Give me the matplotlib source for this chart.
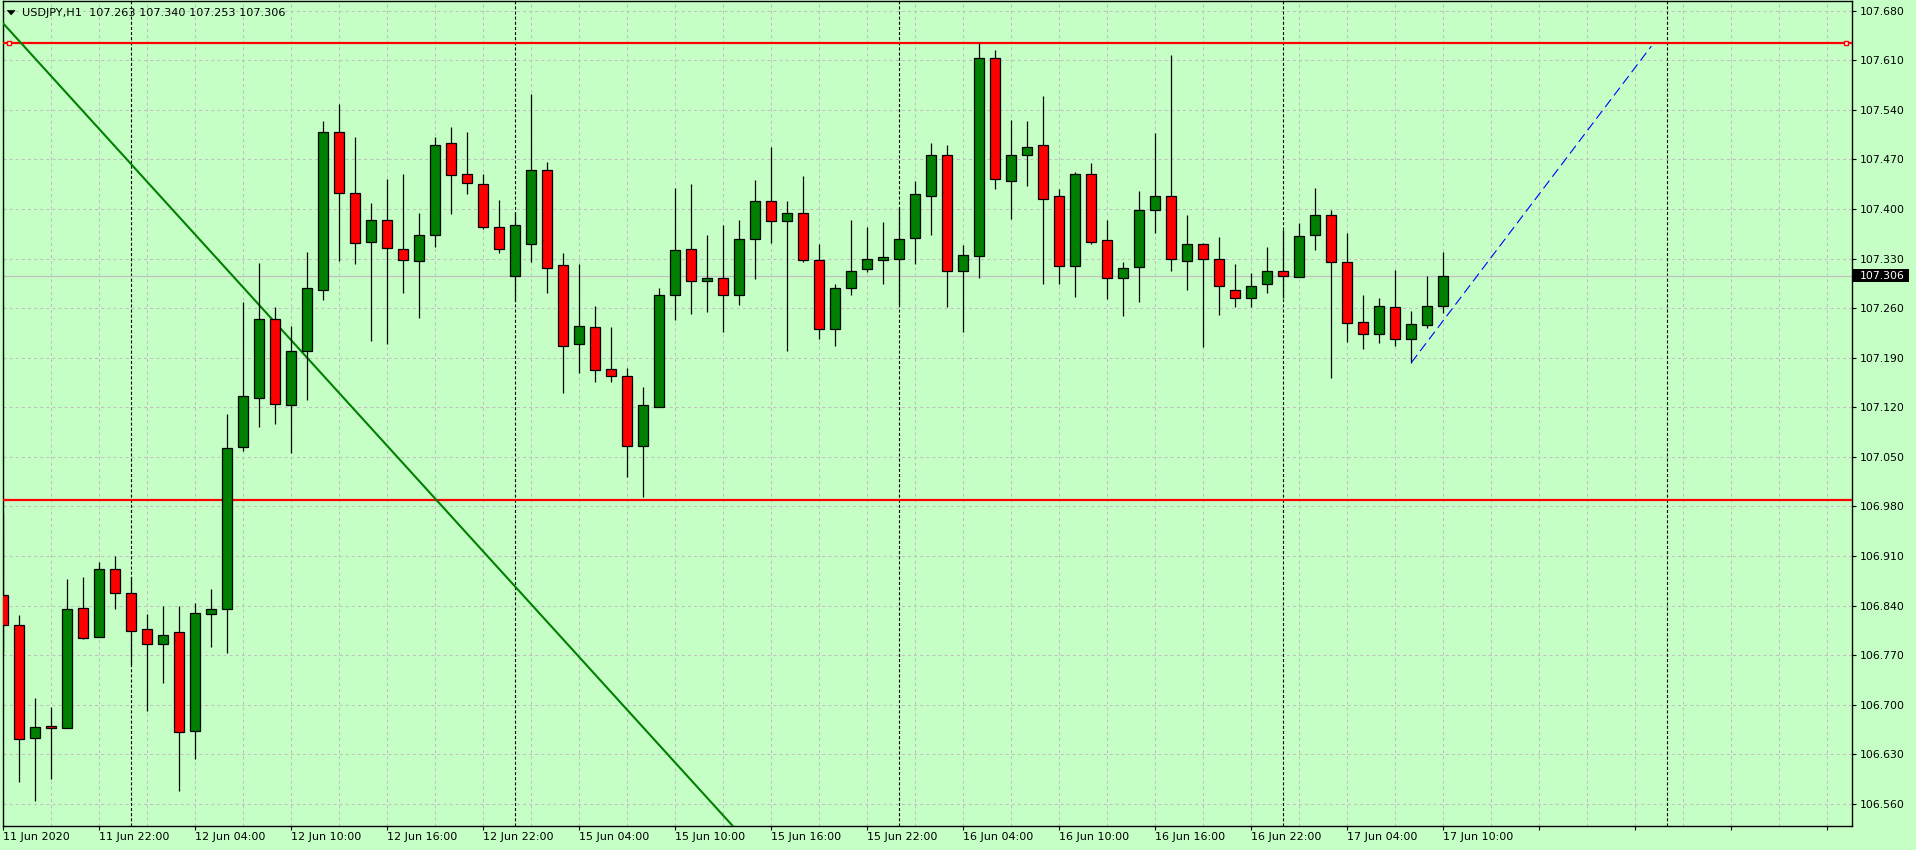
import matplotlib
matplotlib.use("Agg")
import matplotlib.pyplot as plt
import matplotlib.transforms as mtransforms
from matplotlib.patches import Rectangle, Polygon
import numpy as np

plt.rcParams['font.family'] = ['DejaVu Sans']
plt.rcParams['lines.scale_dashes'] = False

# ---------------- data ----------------
symbol_title = "USDJPY,H1"

opens = [106.855, 106.813, 106.653, 106.670, 106.667, 106.837, 106.796, 106.891, 106.858, 106.807,
         106.786, 106.802, 106.663, 106.828, 106.835, 107.064, 107.133, 107.244, 107.123, 107.200,
         107.286, 107.509, 107.423, 107.353, 107.385, 107.344, 107.327, 107.363, 107.493, 107.450,
         107.435, 107.375, 107.306, 107.351, 107.455, 107.321, 107.210, 107.234, 107.174, 107.164,
         107.065, 107.121, 107.278, 107.343, 107.298, 107.302, 107.278, 107.357, 107.412, 107.383,
         107.394, 107.328, 107.230, 107.288, 107.315, 107.328, 107.329, 107.359, 107.419, 107.477,
         107.313, 107.333, 107.613, 107.439, 107.477, 107.490, 107.418, 107.320, 107.449, 107.356,
         107.302, 107.318, 107.399, 107.419, 107.327, 107.351, 107.330, 107.286, 107.274, 107.294,
         107.313, 107.304, 107.363, 107.392, 107.325, 107.241, 107.224, 107.262, 107.217, 107.236,
         107.263]
highs = [106.971, 106.826, 106.709, 106.696, 106.878, 106.880, 106.902, 106.910, 106.880, 106.828,
         106.839, 106.839, 106.843, 106.863, 107.111, 107.268, 107.324, 107.261, 107.235, 107.340,
         107.525, 107.549, 107.502, 107.409, 107.442, 107.450, 107.394, 107.502, 107.516, 107.509,
         107.450, 107.413, 107.396, 107.562, 107.467, 107.338, 107.322, 107.263, 107.234, 107.175,
         107.149, 107.288, 107.429, 107.435, 107.363, 107.378, 107.385, 107.441, 107.488, 107.412,
         107.447, 107.350, 107.294, 107.384, 107.374, 107.381, 107.402, 107.439, 107.493, 107.490,
         107.349, 107.634, 107.624, 107.526, 107.524, 107.560, 107.428, 107.452, 107.465, 107.385,
         107.325, 107.425, 107.507, 107.617, 107.392, 107.352, 107.361, 107.323, 107.310, 107.346,
         107.370, 107.380, 107.430, 107.399, 107.366, 107.279, 107.274, 107.314, 107.256, 107.306,
         107.340]
lows = [106.774, 106.591, 106.564, 106.595, 106.667, 106.793, 106.796, 106.835, 106.756, 106.691,
        106.730, 106.578, 106.623, 106.781, 106.773, 107.058, 107.092, 107.097, 107.056, 107.130,
        107.271, 107.326, 107.323, 107.213, 107.209, 107.281, 107.246, 107.347, 107.393, 107.421,
        107.372, 107.338, 107.270, 107.325, 107.281, 107.140, 107.169, 107.155, 107.155, 107.022,
        106.993, 107.120, 107.243, 107.252, 107.255, 107.227, 107.265, 107.301, 107.352, 107.199,
        107.325, 107.216, 107.206, 107.278, 107.311, 107.294, 107.265, 107.322, 107.363, 107.262,
        107.226, 107.302, 107.428, 107.386, 107.433, 107.294, 107.294, 107.276, 107.350, 107.273,
        107.249, 107.268, 107.366, 107.312, 107.285, 107.205, 107.250, 107.261, 107.262, 107.282,
        107.275, 107.304, 107.342, 107.161, 107.212, 107.203, 107.211, 107.207, 107.183, 107.232,
        107.253]
closes = [106.813, 106.652, 106.669, 106.667, 106.835, 106.794, 106.891, 106.857, 106.804, 106.785,
          106.799, 106.662, 106.830, 106.835, 107.063, 107.136, 107.244, 107.125, 107.200, 107.289,
          107.509, 107.423, 107.352, 107.385, 107.345, 107.328, 107.363, 107.491, 107.448, 107.437,
          107.375, 107.344, 107.378, 107.455, 107.317, 107.207, 107.235, 107.173, 107.164, 107.065,
          107.123, 107.278, 107.342, 107.298, 107.303, 107.278, 107.357, 107.412, 107.383, 107.394,
          107.328, 107.230, 107.288, 107.312, 107.329, 107.332, 107.357, 107.421, 107.477, 107.312,
          107.335, 107.614, 107.442, 107.477, 107.487, 107.414, 107.320, 107.450, 107.354, 107.302,
          107.316, 107.398, 107.419, 107.330, 107.351, 107.330, 107.291, 107.275, 107.291, 107.313,
          107.306, 107.362, 107.392, 107.325, 107.239, 107.224, 107.263, 107.217, 107.238, 107.263,
          107.306]

xtick_labels = ["11 Jun 2020", "11 Jun 22:00", "12 Jun 04:00", "12 Jun 10:00", "12 Jun 16:00",
                "12 Jun 22:00", "15 Jun 04:00", "15 Jun 10:00", "15 Jun 16:00", "15 Jun 22:00",
                "16 Jun 04:00", "16 Jun 10:00", "16 Jun 16:00", "16 Jun 22:00", "17 Jun 04:00",
                "17 Jun 10:00"]
ytick_values = [106.560, 106.630, 106.700, 106.770, 106.840, 106.910, 106.980, 107.050,
                107.120, 107.190, 107.260, 107.330, 107.400, 107.470, 107.540, 107.610, 107.680]

level_prices = [107.635, 106.989]          # red horizontal lines
trend_x = [-0.04, 50.0]                     # green trend line (bar index)
trend_y = [107.663, 106.419]
target_x = [88, 103]                        # blue dashed line
target_y = [107.183, 107.630]
separator_bars = [8, 32, 56, 80, 104]       # day separators (bar index)
current_price = 107.306

# ---------------- layout ----------------
W, H = 1916, 850
BG = '#C6FFC6'
GRID = '#C0C0C0'
fig = plt.figure(figsize=(W / 100, H / 100), dpi=100)
fig.patch.set_facecolor(BG)

left_px, right_px, top_px, bottom_px = 2.7, 1852.3, 1, 826
ax = fig.add_axes([left_px / W, 1 - bottom_px / H, (right_px - left_px) / W, (bottom_px - top_px) / H])
ax.set_facecolor(BG)
ax.set_xlim(-0.0375, 115.56)
ax.set_ylim(106.5286, 107.6938)

n = len(opens)
idx = np.arange(n)

# grid
for g in range(0, 116, 3):
    ax.axvline(g, color=GRID, lw=0.75, ls=(0, (2.2, 2.2)), zorder=1)
for yv in ytick_values:
    ax.axhline(yv, color=GRID, lw=0.75, ls=(0, (2.2, 2.2)), zorder=1)

# day separators
for s in separator_bars:
    ax.axvline(s, color='black', lw=0.8, ls=(0, (2.2, 1.5)), zorder=2)

# current price line
ax.axhline(current_price, color='#C0C0C0', lw=0.9, zorder=2)

# red levels
for lp in level_prices:
    ax.axhline(lp, color='#FF0000', lw=1.6, zorder=3)

# trend line
ax.plot(trend_x, trend_y, color='#008000', lw=1.5, zorder=3, solid_capstyle='butt')

# candles
o = np.array(opens); h = np.array(highs); l = np.array(lows); c = np.array(closes)
up = c >= o
body_bot = np.minimum(o, c)
body_h = np.maximum(np.abs(c - o), 0.0012)
colors = np.where(up, '#008000', '#FF0000')
ax.vlines(idx, l, h, color='black', lw=0.9, zorder=4)
ax.bar(idx, body_h, bottom=body_bot, width=0.62, color=colors, edgecolor='black',
       linewidth=0.9, zorder=5)

# blue dashed target line
ax.plot(target_x, target_y, color='#0000FF', lw=0.8, ls=(0, (7, 3.5)), zorder=6)

# selection markers on the top red line
for mx in [0.0035, 0.9965]:
    ax.plot([mx], [level_prices[0]], marker='s', ms=3.5, mfc='white', mec='#FF0000', mew=1.0,
            transform=mtransforms.blended_transform_factory(ax.transAxes, ax.transData),
            zorder=7, clip_on=False)

# axes styling
for sp in ax.spines.values():
    sp.set_color('black')
    sp.set_linewidth(1.0)

ax.yaxis.tick_right()
ax.set_yticks(ytick_values)
ax.set_yticklabels([f"{v:.3f}" for v in ytick_values])
ax.tick_params(axis='y', direction='out', length=3, width=0.8, pad=2.5, labelsize=7.8,
               colors='black')

xt = list(range(0, 115, 6))
xl = [xtick_labels[k] if k < len(xtick_labels) else '' for k in range(len(xt))]
ax.set_xticks(xt)
ax.set_xticklabels(xl, ha='left')
ax.tick_params(axis='x', direction='out', length=3, width=0.8, pad=1.5, labelsize=8,
               colors='black')

# current price box on the axis
bt = mtransforms.blended_transform_factory(fig.transFigure, ax.transData)
box_h = 13 / 708.0
fig.patches.append(Rectangle((1853 / W, current_price - box_h / 2), 56 / W, box_h,
                             transform=bt, facecolor='black', edgecolor='none', zorder=10))
fig.text(1859.5 / W, current_price, f"{current_price:.3f}", transform=bt, color='white',
         fontsize=7.8, va='center', ha='left', zorder=11)

# title text
tri = Polygon([[7.3 / W, 1 - 10.5 / H], [15.0 / W, 1 - 10.5 / H], [11.15 / W, 1 - 14.8 / H]],
              closed=True, transform=fig.transFigure, facecolor='black', edgecolor='black',
              lw=0.5, zorder=12)
fig.patches.append(tri)
fig.text(21.5 / W, 1 - 13 / H,
         f"{symbol_title}  {opens[-1]:.3f} {highs[-1]:.3f} {lows[-1]:.3f} {closes[-1]:.3f}",
         fontsize=8.1, color='black', va='center', ha='left', zorder=12)

fig.savefig("out.png", dpi=100, facecolor=BG)
